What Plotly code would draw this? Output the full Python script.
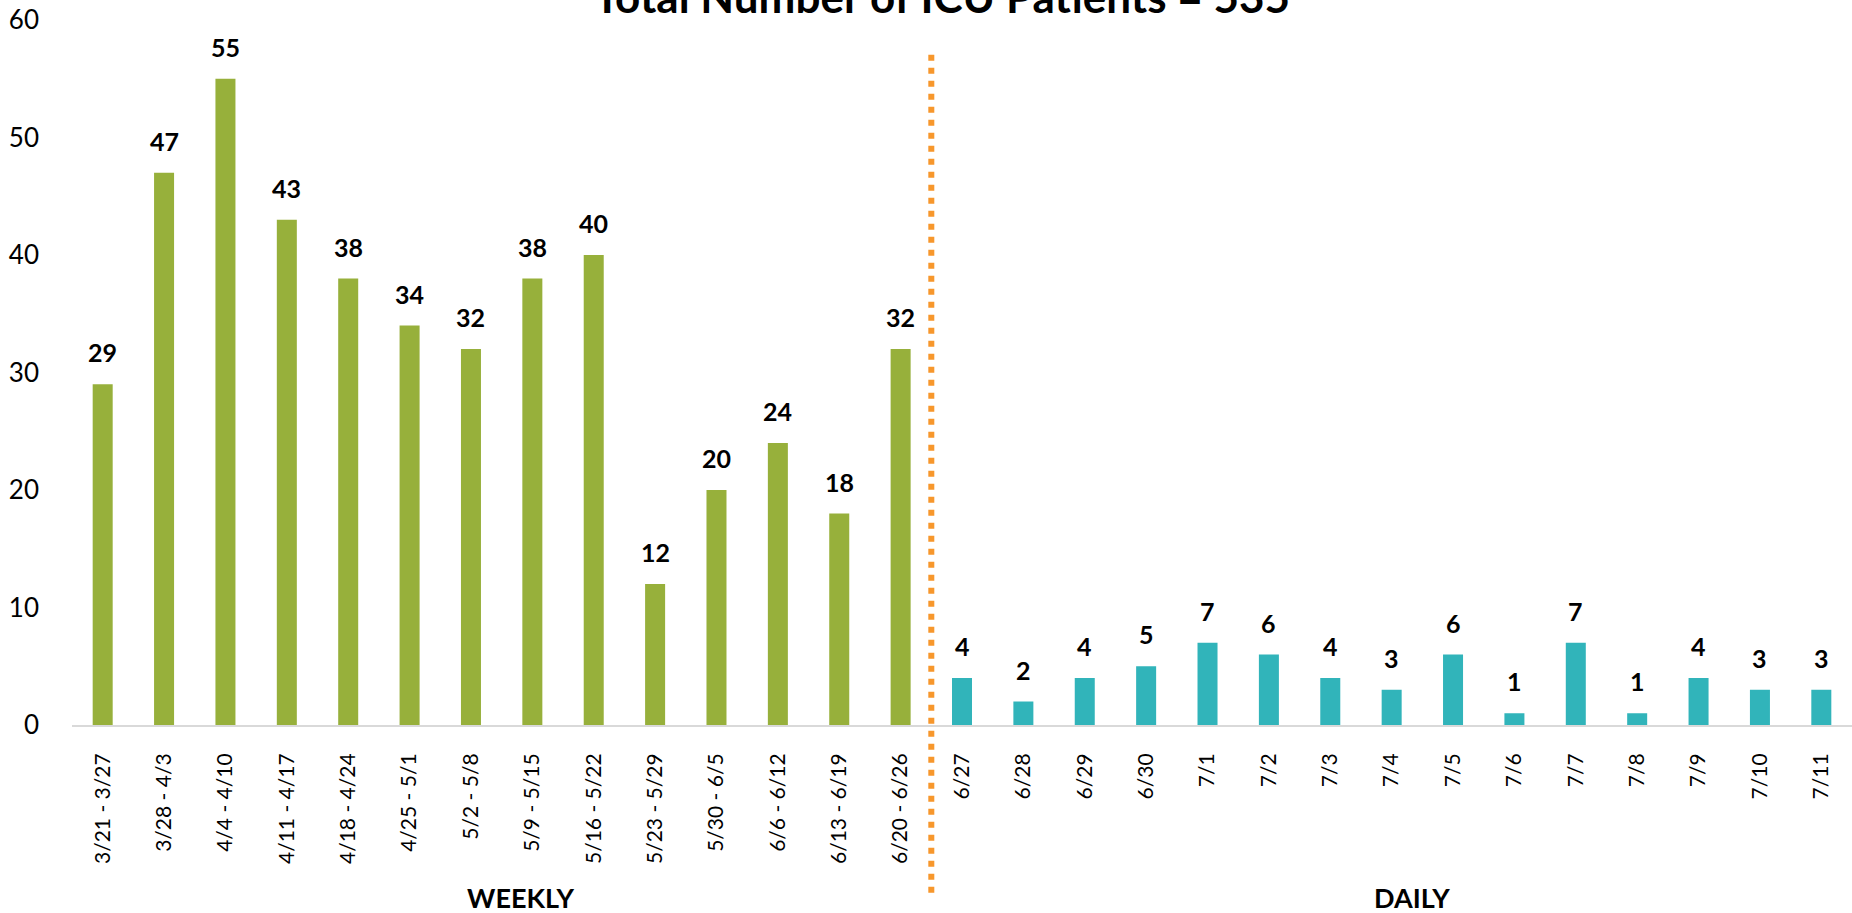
import plotly.graph_objects as go

weekly_labels = ["3/21 - 3/27", "3/28 - 4/3", "4/4 - 4/10", "4/11 - 4/17", "4/18 - 4/24",
                 "4/25 - 5/1", "5/2 - 5/8", "5/9 - 5/15", "5/16 - 5/22", "5/23 - 5/29",
                 "5/30 - 6/5", "6/6 - 6/12", "6/13 - 6/19", "6/20 - 6/26"]
weekly_values = [29, 47, 55, 43, 38, 34, 32, 38, 40, 12, 20, 24, 18, 32]

daily_labels = ["6/27", "6/28", "6/29", "6/30", "7/1", "7/2", "7/3", "7/4", "7/5",
                "7/6", "7/7", "7/8", "7/9", "7/10", "7/11"]
daily_values = [4, 2, 4, 5, 7, 6, 4, 3, 6, 1, 7, 1, 4, 3, 3]

title_text = "Total Number of ICU Patients = 535"
y_ticks = [0, 10, 20, 30, 40, 50, 60]

GREEN = "#97B03B"
TEAL = "#31B4BA"
ORANGE = "#F7972C"
FONT = "Lato"

fig = go.Figure()
fig.add_trace(go.Bar(x=weekly_labels, y=weekly_values, marker_color=GREEN,
                     marker_line_width=0, showlegend=False))
fig.add_trace(go.Bar(x=daily_labels, y=daily_values, marker_color=TEAL,
                     marker_line_width=0, showlegend=False))

annotations = []
for lab, v in list(zip(weekly_labels, weekly_values)) + list(zip(daily_labels, daily_values)):
    annotations.append(dict(x=lab, y=v, xref="x", yref="y", text=str(v), showarrow=False,
                            yanchor="bottom", yshift=15,
                            font=dict(family=FONT, size=25, color="black", weight="bold")))

annotations.append(dict(x=0.489, y=0.994, xref="paper", yref="paper", text=title_text,
                        showarrow=False, yanchor="bottom", xanchor="center",
                        font=dict(family=FONT, size=44, color="black", weight="bold")))
annotations.append(dict(x=0.2517, y=-0.245, xref="paper", yref="paper", text="WEEKLY",
                        showarrow=False, yanchor="middle", xanchor="center",
                        font=dict(family=FONT, size=27, color="black", weight="bold")))
annotations.append(dict(x=0.7528, y=-0.245, xref="paper", yref="paper", text="DAILY",
                        showarrow=False, yanchor="middle", xanchor="center",
                        font=dict(family=FONT, size=27, color="black", weight="bold")))

n_weekly = len(weekly_labels)
shapes = [dict(type="line", xref="x", yref="paper", x0=n_weekly - 0.5, x1=n_weekly - 0.5,
               y0=-0.238, y1=0.957, line=dict(color=ORANGE, width=6, dash="6px,7px"))]

fig.update_layout(
    width=1852, height=913,
    margin=dict(l=72, r=0, t=20, b=188),
    plot_bgcolor="white", paper_bgcolor="white",
    barmode="overlay", bargap=0.674,
    annotations=annotations, shapes=shapes,
    font=dict(family=FONT, color="black"),
    xaxis=dict(type="category", showline=True, linecolor="#D9D9D9", linewidth=2,
               showgrid=False, zeroline=False, ticks="", tickangle=-90,
               tickfont=dict(family=FONT, size=21, color="black"), ticklabelstandoff=18),
    yaxis=dict(range=[0, 60], tickvals=y_ticks, showgrid=False, zeroline=False,
               showline=False, ticks="", tickfont=dict(family=FONT, size=26, color="black"),
               ticklabelstandoff=32),
)

fig.write_html("out.html", config={"displayModeBar": False},
               post_script="document.body.style.margin='0';document.body.style.overflow='hidden';")
